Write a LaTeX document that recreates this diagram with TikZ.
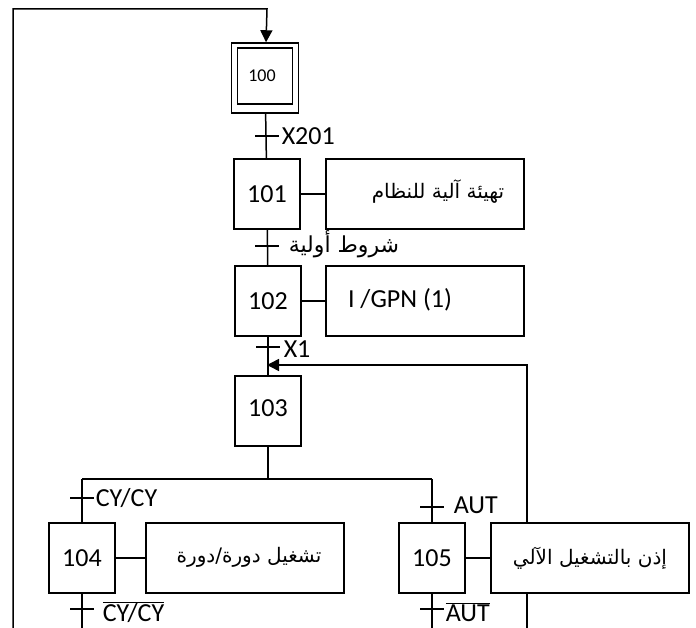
\documentclass[tikz,border=0pt]{standalone}
\usepackage{fontspec}
\setmainfont{Carlito}
\newfontfamily\arabicfont[Script=Arabic]{DejaVu Sans}
\TeXXeTstate=1
\usetikzlibrary{arrows.meta,positioning}

\begin{document}
\begin{tikzpicture}[
    x=1pt, y=-1pt, line width=1.5pt,
    stepbox/.style={draw, minimum width=66pt, minimum height=70pt, inner sep=0pt, font=\fontsize{26}{30}\selectfont},
    action/.style={draw, fill=white, minimum width=198pt, minimum height=70pt, inner sep=0pt},
    arab/.style={font=\arabicfont\fontsize{20}{24}\selectfont},
    cond/.style={anchor=west, inner sep=0pt, font=\fontsize{26}{30}\selectfont},
    arrow/.style={-{Triangle[length=12pt, width=12pt]}}
]
    \useasboundingbox (0,0) rectangle (696,628);

    % return loop on the right (behind the action of step 105)
    \coordinate (loopR) at (527,628);
    \coordinate (back) at (267,365);
    \draw[arrow] (loopR) |- (back);

    % steps and actions
    \node[stepbox, minimum width=67pt] (s100) at (265,78) {};
    \node[draw, minimum width=55pt, minimum height=56pt, inner sep=0pt, font=\fontsize{18}{20}\selectfont] (s100in) at (265,76) {\raisebox{-4pt}{100}\hspace*{6pt}};
    \node[stepbox] (s101) at (267,194) {101};
    \node[action, arab] (a101) at (425,194) {\hspace*{26pt}\raisebox{9pt}{\beginR تهيئة آلية للنظام\endR}};
    \node[stepbox] (s102) at (268,301) {102};
    \node[action, font=\fontsize{26}{30}\selectfont] (a102) at (425,301) {\raisebox{7pt}{I /GPN (1)}\hspace*{50pt}};
    \node[stepbox] (s103) at (268,411) {\raisebox{6pt}{103}};
    \node[stepbox] (s104) at (82,558) {104};
    \node[action, arab] (a104) at (245,558) {\hspace*{8pt}\raisebox{6pt}{\beginR تشغيل دورة/دورة\endR}};
    \node[stepbox] (s105) at (432,558) {105};
    \node[action, arab] (a105) at (590,558) {\raisebox{3pt}{\beginR إذن بالتشغيل الآلي\endR}};

    % receptivities
    \node[cond] (c201) at (281,136) {X201};
    \node[cond, arab, font=\arabicfont\fontsize{22}{24}\selectfont] (cinit) at (288,244) {\beginR شروط أولية\endR};
    \node[cond] (cx1) at (283,349) {X1};
    \node[cond] (ccy) at (95,498) {CY/CY};
    \node[cond] (caut) at (453,505) {AUT};
    \node[cond] (cncy) at (102,612) {$\overline{\mbox{CY/CY}}$};
    \node[cond] (cnaut) at (445,612) {$\overline{\mbox{AUT}}$};

    % points of the links
    \coordinate (loopL) at (13,628);
    \coordinate (top) at (267,9);
    \coordinate (orL) at (82,479);
    \coordinate (orR) at (432,479);
    \coordinate (e104) at (82,628);
    \coordinate (e105) at (432,628);

    % links
    \draw[arrow] (loopL) |- (top) -- (s100);
    \draw (s100) -- (s101);
    \draw (s101) -- (a101);
    \draw (s101) -- (s102);
    \draw (s102) -- (a102);
    \draw (s102) -- (s103);
    \draw (s103) -- (s103 |- orL);
    \draw (orL) -- (orR);
    \draw (orL) -- (s104);
    \draw (orR) -- (s105);
    \draw (s104) -- (a104);
    \draw (s105) -- (a105);
    \draw (s104) -- (e104);
    \draw (s105) -- (e105);

    % transition ticks
    \foreach \x/\y in {267/136, 267/246, 268/347, 82/498, 432/507, 82/609, 432/609}
        \draw (\x,\y) ++(-12,0) -- ++(24,0);
\end{tikzpicture}
\end{document}
